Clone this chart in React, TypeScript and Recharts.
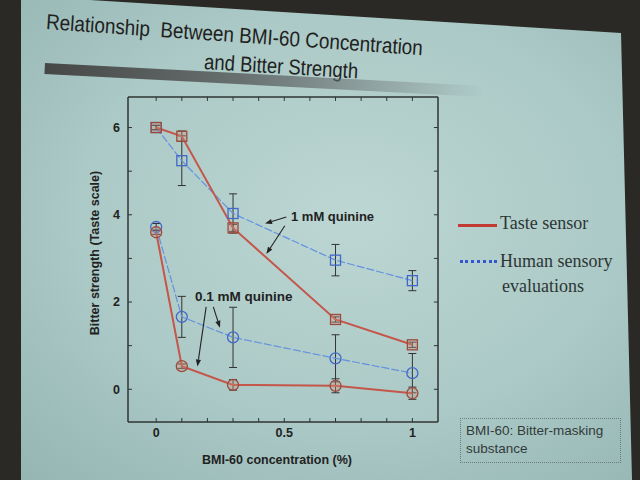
import React from 'react';
import { LineChart, Line, XAxis, YAxis, ErrorBar, ReferenceLine } from 'recharts';

// BMI-60 concentration (%), shared by all four series
const conc = [0, 0.1, 0.3, 0.7, 1];

// 1 mM quinine
const sensor1mM = [6.0, 5.8, 3.7, 1.6, 1.02];
const sensor1mMErr = [0.05, 0.12, 0.08, 0.06, 0.06];
const human1mM = [6.0, 5.24, 4.03, 2.96, 2.49];
const human1mMErr = [0.05, 0.57, 0.45, 0.36, 0.23];

// 0.1 mM quinine
const sensor01mM = [3.6, 0.53, 0.1, 0.08, -0.09];
const sensor01mMErr = [0.05, 0.05, 0.12, 0.16, 0.14];
const human01mM = [3.72, 1.66, 1.19, 0.71, 0.37];
const human01mMErr = [0.08, 0.47, 0.69, 0.54, 0.45];

const xTicks = [0, 0.1, 0.2, 0.3, 0.4, 0.5, 0.6, 0.7, 0.8, 0.9, 1];
const xTickLabels = ['0', '0.5', '1'];
const yTicks = [0, 1, 2, 3, 4, 5, 6];
const yTickLabels = ['0', '2', '4', '6'];

const X_DOMAIN: [number, number] = [-0.11, 1.1];
const Y_DOMAIN: [number, number] = [-0.75, 6.7];
// inward tick length on the top / right frame, in data units (~4px)
const TOP_TICK = 0.09;
const RIGHT_TICK = 0.016;

const RED = '#c4564a';
const RED_DARK = '#9c4a3c';
const BLUE = '#6391e0';
const BLUE_DARK = '#4368c8';
const FRAME = '#2f3433';
const SANS = '"Liberation Sans", Arial, sans-serif';
const SERIF = '"Liberation Serif", "Times New Roman", serif';

const table = conc.map((x, i) => ({
  x,
  s1: sensor1mM[i],
  s1e: sensor1mMErr[i],
  h1: human1mM[i],
  h1e: human1mMErr[i],
  s01: sensor01mM[i],
  s01e: sensor01mMErr[i],
  h01: human01mM[i],
  h01e: human01mMErr[i],
}));

const fmtX = (v: number) => {
  const s = String(Math.round(v * 10) / 10);
  return xTickLabels.includes(s) ? s : '';
};
const fmtY = (v: number) => (yTickLabels.includes(String(v)) ? String(v) : '');

const squareDot = (stroke: string, fill: string) => (props: any) => {
  const { cx, cy, index } = props;
  if (cx == null || cy == null) return <g key={`sq-${index}`} />;
  return (
    <rect key={`sq-${index}`} x={cx - 5} y={cy - 5} width={10} height={10}
      fill={fill} stroke={stroke} strokeWidth={1.3} />
  );
};

const circleDot = (stroke: string, fill: string) => (props: any) => {
  const { cx, cy, index } = props;
  if (cx == null || cy == null) return <g key={`ci-${index}`} />;
  return <circle key={`ci-${index}`} cx={cx} cy={cy} r={5.5} fill={fill} stroke={stroke} strokeWidth={1.3} />;
};

// arrow from the annotation text to a curve
const Arrow = (p: any) => {
  const { x1, y1, x2, y2 } = p;
  const a = Math.atan2(y2 - y1, x2 - x1);
  const L = 7;
  const W = 2.6;
  const bx = x2 - L * Math.cos(a);
  const by = y2 - L * Math.sin(a);
  const pts = [
    `${x2},${y2}`,
    `${bx + W * Math.sin(a)},${by - W * Math.cos(a)}`,
    `${bx - W * Math.sin(a)},${by + W * Math.cos(a)}`,
  ].join(' ');
  return (
    <g>
      <line x1={x1} y1={y1} x2={bx} y2={by} stroke="#222" strokeWidth={1.1} />
      <polygon points={pts} fill="#222" />
    </g>
  );
};

const tickStyle = { fontSize: 12.5, fontWeight: 'bold' as const, fill: '#222', fontFamily: SANS };

export default function App() {
  return (
    <div style={{ position: 'fixed', left: 0, top: 0, width: 640, height: 480, overflow: 'hidden', background: '#2a2926' }}>
      {/* projected slide */}
      <div
        style={{
          position: 'absolute', left: 0, top: 0, width: 640, height: 480,
          clipPath: 'polygon(21px 0px, 90px 0px, 621px 33px, 632px 480px, 21px 480px)',
          background: 'radial-gradient(ellipse at 55% 45%, #bcd6d3 0%, #abc9c6 55%, #93b4b1 100%)',
        }}
      />

      {/* title */}
      <div style={{ position: 'absolute', left: 47, top: 10, fontFamily: SANS, fontSize: 21.5, color: '#1f2221', whiteSpace: 'nowrap', transformOrigin: 'left top', transform: 'rotate(4deg) scaleX(0.88)' }}>
        Relationship&nbsp; Between BMI-60 Concentration
      </div>
      <div style={{ position: 'absolute', left: 205, top: 50, fontFamily: SANS, fontSize: 21.5, color: '#1f2221', whiteSpace: 'nowrap', transformOrigin: 'left top', transform: 'rotate(3.5deg) scaleX(0.86)' }}>
        and Bitter Strength
      </div>
      <div style={{ position: 'absolute', left: 45, top: 63, width: 440, height: 11, transformOrigin: 'left top', transform: 'rotate(3deg)', background: 'linear-gradient(to right, #454746 0%, #687070 45%, rgba(150,170,168,0) 100%)' }} />

      {/* chart */}
      <div style={{ position: 'absolute', left: 0, top: 0 }}>
        <LineChart width={640} height={480} data={table} margin={{ top: 97, right: 202, bottom: 28, left: 88 }}>
          <XAxis dataKey="x" type="number" domain={X_DOMAIN} ticks={xTicks} interval={0} allowDataOverflow
            tickSize={-4} tickMargin={10} tickFormatter={fmtX} tick={tickStyle} height={30}
            axisLine={{ stroke: FRAME, strokeWidth: 1.5 }} tickLine={{ stroke: FRAME }} />
          <YAxis type="number" domain={Y_DOMAIN} ticks={yTicks} interval={0} allowDataOverflow
            tickSize={-4} tickMargin={12} tickFormatter={fmtY} tick={tickStyle} width={40}
            axisLine={{ stroke: FRAME, strokeWidth: 1.5 }} tickLine={{ stroke: FRAME }} />

          {/* top and right sides of the frame, with inward ticks */}
          <ReferenceLine y={Y_DOMAIN[1]} stroke={FRAME} strokeWidth={1.5} ifOverflow="visible" />
          <ReferenceLine x={X_DOMAIN[1]} stroke={FRAME} strokeWidth={1.5} ifOverflow="visible" />
          {xTicks.map((t) => (
            <ReferenceLine key={`tt-${t}`} segment={[{ x: t, y: Y_DOMAIN[1] }, { x: t, y: Y_DOMAIN[1] - TOP_TICK }]}
              stroke={FRAME} strokeWidth={1} ifOverflow="visible" />
          ))}
          {yTicks.map((t) => (
            <ReferenceLine key={`rt-${t}`} segment={[{ x: X_DOMAIN[1], y: t }, { x: X_DOMAIN[1] - RIGHT_TICK, y: t }]}
              stroke={FRAME} strokeWidth={1} ifOverflow="visible" />
          ))}

          <Line dataKey="h1" stroke={BLUE} strokeWidth={1.2} strokeDasharray="8 2" isAnimationActive={false}
            dot={squareDot(BLUE_DARK, 'none')} activeDot={false}>
            <ErrorBar dataKey="h1e" direction="y" width={4} stroke="#333" strokeWidth={1} />
          </Line>
          <Line dataKey="h01" stroke={BLUE} strokeWidth={1.2} strokeDasharray="8 2" isAnimationActive={false}
            dot={circleDot(BLUE_DARK, 'none')} activeDot={false}>
            <ErrorBar dataKey="h01e" direction="y" width={4} stroke="#333" strokeWidth={1} />
          </Line>
          <Line dataKey="s1" stroke={RED} strokeWidth={2} isAnimationActive={false}
            dot={squareDot(RED_DARK, 'rgba(205,150,130,0.35)')} activeDot={false}>
            <ErrorBar dataKey="s1e" direction="y" width={4} stroke="#333" strokeWidth={1} />
          </Line>
          <Line dataKey="s01" stroke={RED} strokeWidth={2} isAnimationActive={false}
            dot={circleDot(RED_DARK, 'rgba(205,150,130,0.35)')} activeDot={false}>
            <ErrorBar dataKey="s01e" direction="y" width={4} stroke="#333" strokeWidth={1} />
          </Line>

          <ReferenceLine segment={[{ x: 0.508, y: 3.95 }, { x: 0.425, y: 3.8 }]} shape={Arrow} ifOverflow="visible" />
          <ReferenceLine segment={[{ x: 0.502, y: 3.75 }, { x: 0.43, y: 3.1 }]} shape={Arrow} ifOverflow="visible" />
          <ReferenceLine segment={[{ x: 0.223, y: 1.89 }, { x: 0.249, y: 1.41 }]} shape={Arrow} ifOverflow="visible" />
          <ReferenceLine segment={[{ x: 0.195, y: 1.89 }, { x: 0.161, y: 0.52 }]} shape={Arrow} ifOverflow="visible" />
        </LineChart>
      </div>

      {/* curve annotations */}
      <div style={{ position: 'absolute', left: 291, top: 209, fontFamily: SANS, fontSize: 13, fontWeight: 'bold', color: '#222', whiteSpace: 'nowrap' }}>
        1 mM quinine
      </div>
      <div style={{ position: 'absolute', left: 195, top: 289, fontFamily: SANS, fontSize: 13.5, fontWeight: 'bold', color: '#222', whiteSpace: 'nowrap' }}>
        0.1 mM quinine
      </div>

      {/* axis titles */}
      <div style={{ position: 'absolute', left: 95, top: 253, fontFamily: SANS, fontSize: 12.5, fontWeight: 'bold', color: '#222', whiteSpace: 'nowrap', transform: 'translate(-50%, -50%) rotate(-90deg)' }}>
        Bitter strength (Taste scale)
      </div>
      <div style={{ position: 'absolute', left: 277, top: 460, fontFamily: SANS, fontSize: 12.5, fontWeight: 'bold', color: '#222', whiteSpace: 'nowrap', transform: 'translate(-50%, -50%)' }}>
        BMI-60 concentration (%)
      </div>

      {/* legend */}
      <div style={{ position: 'absolute', left: 458, top: 224, width: 39, height: 3, background: '#c23b32' }} />
      <div style={{ position: 'absolute', left: 500, top: 213, fontFamily: SERIF, fontSize: 18, color: '#2c3634', whiteSpace: 'nowrap' }}>
        Taste sensor
      </div>
      <div style={{ position: 'absolute', left: 460, top: 260, width: 37, borderTop: '3px dotted #3556d0' }} />
      <div style={{ position: 'absolute', left: 500, top: 249, fontFamily: SERIF, fontSize: 18, color: '#2c3634', whiteSpace: 'nowrap', lineHeight: '25px' }}>
        Human sensory<br />
        <span style={{ marginLeft: 2 }}>evaluations</span>
      </div>

      {/* note box */}
      <div style={{ position: 'absolute', left: 460, top: 418, width: 161, height: 45, boxSizing: 'border-box', border: '1px dotted #6d7a78', padding: '3px 0 0 5px', fontFamily: SANS, fontSize: 13.5, lineHeight: '18px', color: '#333b3a' }}>
        BMI-60: Bitter-masking<br />substance
      </div>
    </div>
  );
}
